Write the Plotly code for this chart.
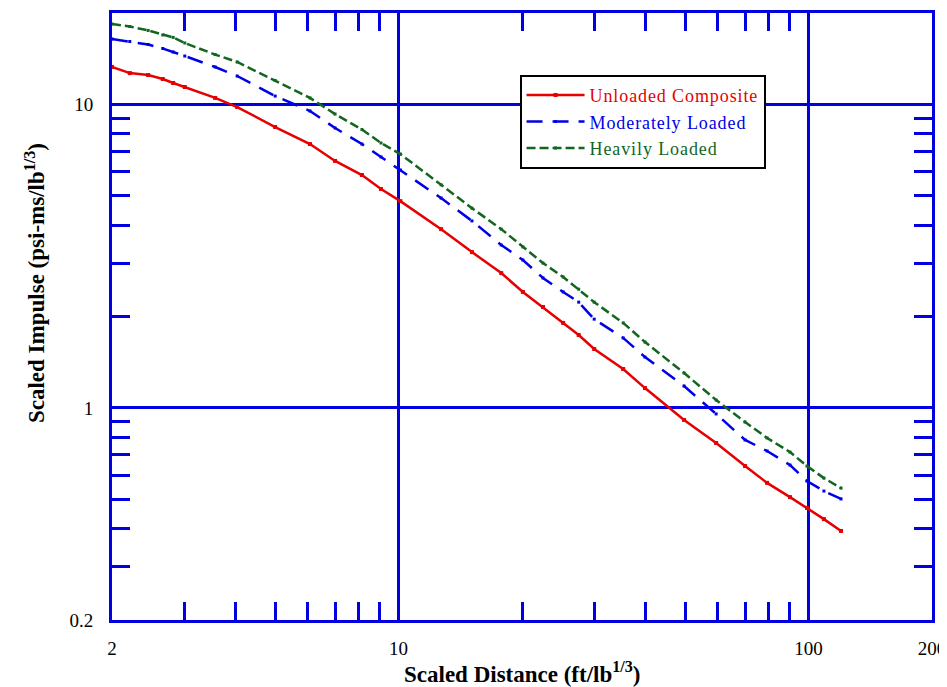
import plotly.graph_objects as go

# Scaled distance (ft/lb^1/3)
distance = [2.0, 2.21, 2.45, 2.66, 2.82, 3.01, 3.57, 4.04, 5.0, 6.08, 7.0, 8.14, 9.06, 10.1,
            12.7, 15.1, 17.8, 20.1, 22.5, 25.2, 27.5, 30.0, 35.3, 39.9, 49.7, 59.5, 70.0,
            79.2, 90.1, 99.1, 109, 120]

unloaded = [13.28, 12.68, 12.49, 12.12, 11.76, 11.41, 10.50, 9.80, 8.42, 7.40, 6.51, 5.85,
            5.26, 4.80, 3.88, 3.26, 2.78, 2.41, 2.15, 1.905, 1.738, 1.563, 1.343, 1.162,
            0.912, 0.766, 0.643, 0.566, 0.508, 0.468, 0.430, 0.393]

moderate = [16.42, 16.11, 15.75, 15.28, 14.88, 14.43, 13.28, 12.40, 10.65, 9.51, 8.36, 7.40,
            6.71, 6.08, 4.91, 4.13, 3.44, 3.07, 2.68, 2.41, 2.23, 1.96, 1.70, 1.47, 1.18,
            0.955, 0.784, 0.721, 0.648, 0.574, 0.532, 0.501]

heavy = [18.40, 18.05, 17.52, 16.93, 16.62, 15.93, 14.59, 13.79, 11.99, 10.50, 9.29, 8.26,
         7.46, 6.86, 5.43, 4.55, 3.88, 3.39, 3.00, 2.70, 2.46, 2.23, 1.905, 1.648, 1.303,
         1.061, 0.898, 0.796, 0.715, 0.643, 0.587, 0.544]

series_names = ["Unloaded Composite", "Moderately Loaded", "Heavily Loaded"]

x_ticks = [2, 10, 100, 200]
x_ticktext = ["2", "10", "100", "200"]
y_ticks = [0.2, 1, 10, 20]
y_ticktext = ["0.2", "1", "10", "20"]
x_minor = [3, 4, 5, 6, 7, 8, 9, 20, 30, 40, 50, 60, 70, 80, 90]
y_minor = [0.3, 0.4, 0.5, 0.6, 0.7, 0.8, 0.9, 2, 3, 4, 5, 6, 7, 8, 9]

BLUE = "#0000e0"
RED = "#e60000"
DBLUE = "#0000e6"
GREEN = "#13661f"
FONT = "Liberation Serif"

fig = go.Figure()
styles = [
    (unloaded, RED, "solid", 4),
    (moderate, DBLUE, "16px,10px", 3),
    (heavy, GREEN, "9px,4px", 3),
]
for (vals, col, dash, msize), name in zip(styles, series_names):
    fig.add_trace(go.Scatter(
        x=distance, y=vals, mode="lines+markers",
        name=f'<span style="color:{col};letter-spacing:0.9px">{name}</span>',
        line=dict(color=col, width=2.5, dash=dash),
        marker=dict(color=col, size=msize, symbol="square"),
    ))

axis_common = dict(
    type="log", automargin=False,
    showline=True, linecolor=BLUE, linewidth=3, mirror="ticks",
    showgrid=True, gridcolor=BLUE, gridwidth=2.5,
    ticks="", zeroline=False,
    tickfont=dict(family=FONT, size=19, color="black"),
)

fig.update_xaxes(
    **axis_common,
    range=[0.30103, 2.30103],
    tickmode="array", tickvals=x_ticks, ticktext=x_ticktext,
    ticklabelstandoff=9,
    minor=dict(ticks="inside", ticklen=18, tickwidth=2.5, tickcolor=BLUE,
               tickmode="array", tickvals=x_minor, showgrid=False),
)
fig.update_yaxes(
    **axis_common,
    range=[-0.69897, 1.30103],
    tickmode="array", tickvals=y_ticks, ticktext=y_ticktext,
    ticklabelstandoff=12,
    minor=dict(ticks="inside", ticklen=18, tickwidth=2.5, tickcolor=BLUE,
               tickmode="array", tickvals=y_minor, showgrid=False),
)

fig.add_annotation(
    text="Scaled Distance (ft/lb<sup>1/3</sup>)",
    xref="paper", yref="paper", x=0.5, y=-0.086, xanchor="center", yanchor="middle",
    showarrow=False, font=dict(family=FONT, size=23, color="black", weight="bold"),
)
fig.add_annotation(
    text="Scaled Impulse (psi-ms/lb<sup>1/3</sup>)",
    xref="paper", yref="paper", x=-0.094, y=0.555, xanchor="center", yanchor="middle",
    textangle=-90,
    showarrow=False, font=dict(family=FONT, size=23, color="black", weight="bold"),
)

# The page body adds an 8px margin, so the figure is offset to compensate
fig.update_layout(
    width=947, height=679,
    margin=dict(l=104, r=23, t=5, b=67, autoexpand=False),
    paper_bgcolor="white", plot_bgcolor="white",
    font=dict(family=FONT, color="black"),
    showlegend=True,
    legend=dict(
        x=0.497, y=0.898, xanchor="left", yanchor="top",
        bgcolor="white", bordercolor="black", borderwidth=2,
        font=dict(family=FONT, size=18),
        itemwidth=58, tracegroupgap=0,
    ),
)

fig.write_html("out.html")
